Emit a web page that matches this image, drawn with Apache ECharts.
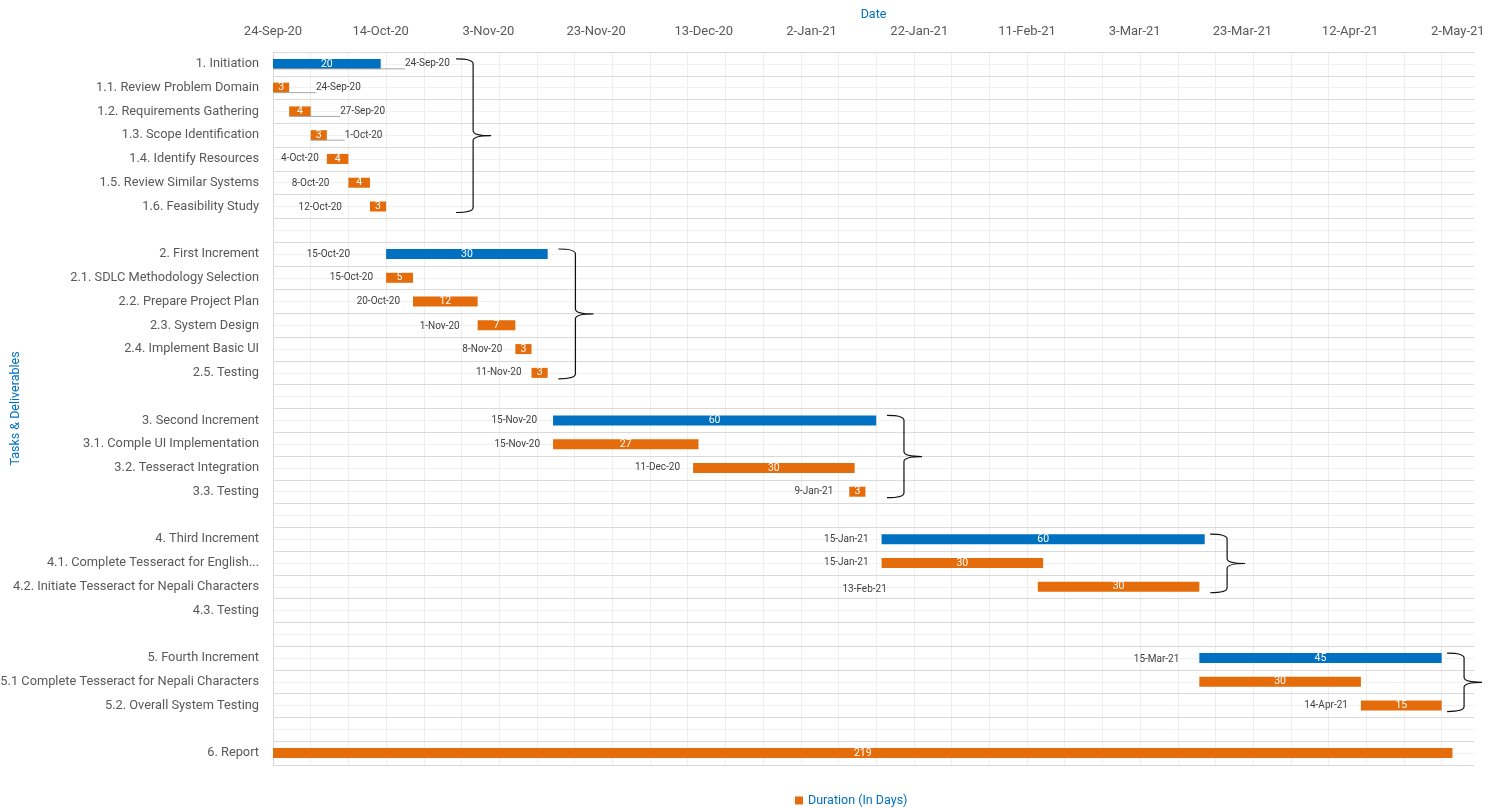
<!DOCTYPE html>
<html><head><meta charset="utf-8">
<script src="https://cdn.jsdelivr.net/npm/echarts@6/dist/echarts.min.js"></script>
<style>html,body{margin:0;padding:0;background:#fff}#c{width:1502px;height:808px}</style>
</head><body><div id="c"></div>
<script>
const categories = [
 '1. Initiation','1.1. Review Problem Domain','1.2. Requirements Gathering','1.3. Scope Identification','1.4. Identify Resources','1.5. Review Similar Systems','1.6. Feasibility Study','',
 '2. First Increment','2.1. SDLC Methodology Selection','2.2. Prepare Project Plan','2.3. System Design','2.4. Implement Basic UI','2.5. Testing','',
 '3. Second Increment','3.1. Comple UI Implementation','3.2. Tesseract Integration','3.3. Testing','',
 '4. Third Increment','4.1. Complete Tesseract for English...','4.2. Initiate Tesseract for Nepali Characters','4.3. Testing','',
 '5. Fourth Increment','5.1 Complete Tesseract for Nepali Characters','5.2. Overall System Testing','',
 '6. Report'];
const startDates = ['2020-09-24','2020-09-24','2020-09-27','2020-10-01','2020-10-04','2020-10-08','2020-10-12',null,
 '2020-10-15','2020-10-15','2020-10-20','2020-11-01','2020-11-08','2020-11-11',null,
 '2020-11-15','2020-11-15','2020-12-11','2021-01-09',null,
 '2021-01-15','2021-01-15','2021-02-13',null,null,
 '2021-03-15','2021-03-15','2021-04-14',null,
 '2020-09-24'];
const durations = [20,3,4,3,4,4,3,null, 30,5,12,7,3,3,null, 60,27,30,3,null, 60,30,30,null,null, 45,30,15,null, 219];
const phaseRows = ['1. Initiation','2. First Increment','3. Second Increment','4. Third Increment','5. Fourth Increment'];
const hiddenStartLabels = ['5.1 Complete Tesseract for Nepali Characters','6. Report'];
const tickLabels = ['24-Sep-20','14-Oct-20','3-Nov-20','23-Nov-20','13-Dec-20','2-Jan-21','22-Jan-21','11-Feb-21','3-Mar-21','23-Mar-21','12-Apr-21','2-May-21'];
const axisStart = '2020-09-24';
const axisEnd = '2021-05-05';
const braces = [['2020-10-28',0,6],['2020-11-16',8,13],['2021-01-16',15,18],['2021-03-17',20,22],['2021-04-30',25,27]];

const DAY = 86400000;
const MON = ['Jan','Feb','Mar','Apr','May','Jun','Jul','Aug','Sep','Oct','Nov','Dec'];
function dayOffset(s){ return Math.round((Date.parse(s) - Date.parse(axisStart)) / DAY); }
function fmtDate(s){ const d = new Date(Date.parse(s)); return d.getUTCDate() + '-' + MON[d.getUTCMonth()] + '-' + String(d.getUTCFullYear()).slice(2); }

const BLUE = '#0070C0', ORANGE = '#E46C0A';
// label placement tweaks (annotation layout, mimicking the reference's moved labels)
const movedRight = {0:132, 1:43, 2:51, 3:34};
const nudges = {4:[5,0],5:[-6,1],6:[-15,1],8:[-23,0],11:[-5,1],13:[3,0],15:[-3,0],18:[-3,0],22:[-138,3],25:[-7,1]};

const startData = categories.map((c,i) => {
  if (!startDates[i]) return '-';
  const item = {value: dayOffset(startDates[i])};
  if (hiddenStartLabels.includes(c)) { item.label = {show:false}; }
  else if (movedRight[i] != null) {
    item.label = {position:'right', distance: movedRight[i]};
    item.labelLine = {show:true, lineStyle:{color:'#a6a6a6', width:1}};
  } else if (nudges[i]) {
    item.label = {offset: nudges[i]};
  }
  return item;
});
const durData = categories.map((c,i) => {
  if (durations[i] == null) return '-';
  return {value: durations[i], itemStyle:{color: phaseRows.includes(c) ? BLUE : ORANGE}};
});
const braceData = braces.map(b => [dayOffset(b[0]), b[1], b[2]]);
const xMax = dayOffset(axisEnd);

const chart = echarts.init(document.getElementById('c'));
chart.setOption({
  animation:false,
  textStyle:{fontFamily:'Roboto'},
  grid:{left:273, right:28, top:52, bottom:43, outerBoundsMode:'none', containLabel:false},
  legend:{data:['Duration (In Days)'], left:790, top:789, icon:'rect', itemWidth:8, itemHeight:8, itemGap:4,
    textStyle:{color:BLUE, fontSize:12.5, fontFamily:'Roboto'}},
  xAxis:[{
    type:'value', position:'top', min:0, max:xMax, interval:20,
    name:'Date', nameLocation:'middle', nameGap:31, nameMoveOverlap:false, nameTextStyle:{color:BLUE, fontSize:12.5},
    axisLine:{show:false}, axisTick:{show:false}, splitLine:{show:false},
    axisLabel:{color:'#595959', fontSize:13, margin:14, showMaxLabel:false,
      formatter: v => (v % 20 === 0 && tickLabels[v/20]) ? tickLabels[v/20] : ''}
  },{
    type:'value', min:0, max:xMax, interval:7,
    axisLine:{show:false}, axisTick:{show:false}, axisLabel:{show:false},
    splitLine:{show:true, showMaxLine:false, lineStyle:{color:'#eeeeee', width:1}}
  }],
  yAxis:[{
    type:'category', data:categories, inverse:true, z:1,
    name:'Tasks & Deliverables', nameLocation:'middle', nameGap:251, nameRotate:90, nameMoveOverlap:false,
    nameTextStyle:{color:BLUE, fontSize:12.5},
    axisLine:{show:true, lineStyle:{color:'#d9d9d9'}}, axisTick:{show:false},
    axisLabel:{color:'#595959', fontSize:12.8, margin:14},
    splitLine:{show:true, lineStyle:{color:'#d9d9d9', width:1}}
  },{
    type:'value', min:0, max:categories.length*2, interval:1, z:0,
    axisLine:{show:false}, axisTick:{show:false}, axisLabel:{show:false},
    splitLine:{show:true, lineStyle:{color:'#f0f0f0', width:1}}
  }],
  series:[{
    name:'Start', type:'bar', stack:'g', barWidth:10, z:3,
    itemStyle:{color:'rgba(0,0,0,0)'},
    emphasis:{disabled:true},
    label:{show:true, position:'insideRight', distance:13, color:'#404040', fontSize:10,
      formatter: p => startDates[p.dataIndex] ? fmtDate(startDates[p.dataIndex]) : ''},
    data:startData
  },{
    name:'Duration (In Days)', type:'bar', stack:'g', barWidth:10,
    itemStyle:{color:ORANGE},
    label:{show:true, position:'inside', color:'#fff', fontSize:10.5},
    data:durData
  },{
    name:'brace', type:'custom', clip:false, z:4, silent:true,
    renderItem:(params, api) => {
      const top = api.coord([api.value(0), api.value(1)]);
      const bot = api.coord([api.value(0), api.value(2)]);
      const x0 = top[0], x1 = x0 + 17, x2 = x0 + 35;
      const yt = top[1] - 5, yb = bot[1] + 6, ym = (yt + yb) / 2;
      const d = `M${x0},${yt} Q${x1},${yt} ${x1},${yt+5} L${x1},${ym-5} Q${x1},${ym} ${x2},${ym} Q${x1},${ym} ${x1},${ym+5} L${x1},${yb-5} Q${x1},${yb} ${x0},${yb}`;
      return {type:'path', shape:{pathData:d}, style:{stroke:'#111', fill:null, lineWidth:1.2}};
    },
    data:braceData
  }]
});
</script></body></html>
